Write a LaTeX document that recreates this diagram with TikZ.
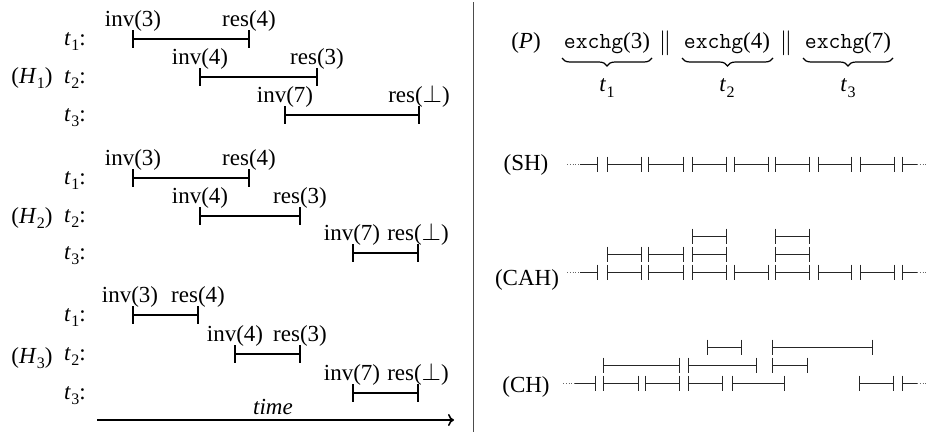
\documentclass[tikz,border=0pt]{standalone}
\usepackage{fontspec}
\setmainfont{Liberation Serif}
\usetikzlibrary{arrows.meta,decorations.pathreplacing}
\newcommand{\tsb}[2]{\textit{#1}\kern0.3pt\raisebox{-0.25em}{\fontsize{16}{16}\selectfont #2}}
\newcommand{\lseg}[3]{\draw[lsegst] (#1,#3) -- (#2,#3) (#1,#3-9) -- (#1,#3+9) (#2,#3-9) -- (#2,#3+9);}
\newcommand{\rseg}[3]{\draw[rsegst] (#1,#3) -- (#2,#3) (#1,#3-7.5) -- (#1,#3+7.5) (#2,#3-7.5) -- (#2,#3+7.5);}
\begin{document}
\begin{tikzpicture}[x=1pt,y=-1pt,
  every node/.style={font=\fontsize{23}{27}\selectfont, inner sep=0pt},
  lsegst/.style={line width=1.5pt, line cap=butt},
  rsegst/.style={line width=0.8pt, black!85},
  dotst/.style={line width=0.8pt, black!60, dotted},
  lbl/.style={anchor=base},
  tl/.style={anchor=base west},
  hl/.style={anchor=base}]
\useasboundingbox (0,0) rectangle (928,437);
% divider
\draw[line width=0.8pt, black!70] (473,2) -- (473,432);

% ---------- H1 ----------
\node[hl] (H1) at (32,83) {(\tsb{H}{1})};
\node[tl] (h1t1) at (64,45) {\tsb{t}{1}:};
\node[tl] (h1t2) at (64,83) {\tsb{t}{2}:};
\node[tl] (h1t3) at (64,121) {\tsb{t}{3}:};
\lseg{133}{249}{39}
\lseg{200}{317}{77}
\lseg{285}{419}{115}
\node[lbl] (h1i1) at (133,26) {inv(3)};
\node[lbl] (h1r1) at (249,26) {res(4)};
\node[lbl] (h1i2) at (200,64) {inv(4)};
\node[lbl] (h1r2) at (317,64) {res(3)};
\node[lbl] (h1i3) at (285,102) {inv(7)};
\node[lbl] (h1r3) at (419,102) {res($\bot$)};

% ---------- H2 ----------
\node[hl] (H2) at (32,223) {(\tsb{H}{2})};
\node[tl] (h2t1) at (64,184) {\tsb{t}{1}:};
\node[tl] (h2t2) at (64,222) {\tsb{t}{2}:};
\node[tl] (h2t3) at (64,259) {\tsb{t}{3}:};
\lseg{133}{249}{178}
\lseg{200}{300}{216}
\lseg{353}{418}{253}
\node[lbl] (h2i1) at (133,165) {inv(3)};
\node[lbl] (h2r1) at (249,165) {res(4)};
\node[lbl] (h2i2) at (200,203) {inv(4)};
\node[lbl] (h2r2) at (300,203) {res(3)};
\node[lbl] (h2i3) at (352,240) {inv(7)};
\node[lbl] (h2r3) at (418,240) {res($\bot$)};

% ---------- H3 ----------
\node[hl] (H3) at (32,363) {(\tsb{H}{3})};
\node[tl] (h3t1) at (64,321) {\tsb{t}{1}:};
\node[tl] (h3t2) at (64,360) {\tsb{t}{2}:};
\node[tl] (h3t3) at (64,399) {\tsb{t}{3}:};
\lseg{133}{198}{315}
\lseg{235}{300}{354}
\lseg{353}{418}{393}
\node[lbl] (h3i1) at (130,302) {inv(3)};
\node[lbl] (h3r1) at (198,302) {res(4)};
\node[lbl] (h3i2) at (235,341) {inv(4)};
\node[lbl] (h3r2) at (300,341) {res(3)};
\node[lbl] (h3i3) at (352,380) {inv(7)};
\node[lbl] (h3r3) at (418,380) {res($\bot$)};

% time arrow
\coordinate (ta) at (97,420);
\coordinate (tb) at (454,420);
\draw[line width=1.6pt, -{To[length=6pt,width=12pt]}] (ta) -- (tb);
\node[lbl] (time) at (273,414) {\textit{time}};

% ---------- P ----------
\node (P) at (526,43) {(\textit{P})};
\node (e3) at (607,43) {\texttt{exchg}(3)};
\node (p1) at (665,43) {$\parallel$};
\node (e4) at (727,43) {\texttt{exchg}(4)};
\node (p2) at (786,43) {$\parallel$};
\node (e7) at (848,43) {\texttt{exchg}(7)};
\foreach \a/\b in {562/652,682/773,803/893}{
  \draw[line width=1.2pt, decorate, decoration={brace, mirror, amplitude=8pt}] (\a,58) -- (\b,58);}
\node (b1) at (607,88) {\tsb{t}{1}};
\node (b2) at (727,88) {\tsb{t}{2}};
\node (b3) at (848,88) {\tsb{t}{3}};

% ---------- SH ----------
\node (SH) at (526,165) {(SH)};
\draw[dotst] (567,164) -- (580,164);
\draw[rsegst] (580,164) -- (597,164) (597,156.5) -- (597,171.5);
\foreach \a/\b in {607/641,648/683,692/726,734/768,775/809,818/851,860/894}{
  \rseg{\a}{\b}{164}}
\draw[rsegst] (902,156.5) -- (902,171.5) (902,164) -- (917,164);
\draw[dotst] (917,164) -- (928,164);

% ---------- CAH ----------
\node (CAH) at (527,280) {(CAH)};
\draw[dotst] (567,272) -- (580,272);
\draw[rsegst] (580,272) -- (597,272) (597,264.5) -- (597,279.5);
\foreach \a/\b in {607/641,648/683,692/726,734/768,775/809,818/851,860/894}{
  \rseg{\a}{\b}{272}}
\draw[rsegst] (902,264.5) -- (902,279.5) (902,272) -- (917,272);
\draw[dotst] (917,272) -- (928,272);
\foreach \a/\b in {607/641,648/683,692/726,775/809}{
  \rseg{\a}{\b}{254}}
\foreach \a/\b in {692/726,775/809}{
  \rseg{\a}{\b}{236}}

% ---------- CH ----------
\node (CH) at (526,387) {(CH)};
\draw[dotst] (563,383) -- (575,383);
\draw[rsegst] (575,383) -- (595,383) (595,375.5) -- (595,390.5);
\foreach \a/\b in {603/638,645/679,688/722,732/784,859/893}{
  \rseg{\a}{\b}{383}}
\draw[rsegst] (902,375.5) -- (902,390.5) (902,383) -- (917,383);
\draw[dotst] (917,383) -- (928,383);
\foreach \a/\b in {603/679,688/756,772/807}{
  \rseg{\a}{\b}{365}}
\foreach \a/\b in {707/741,772/872}{
  \rseg{\a}{\b}{347}}
\end{tikzpicture}
\end{document}
